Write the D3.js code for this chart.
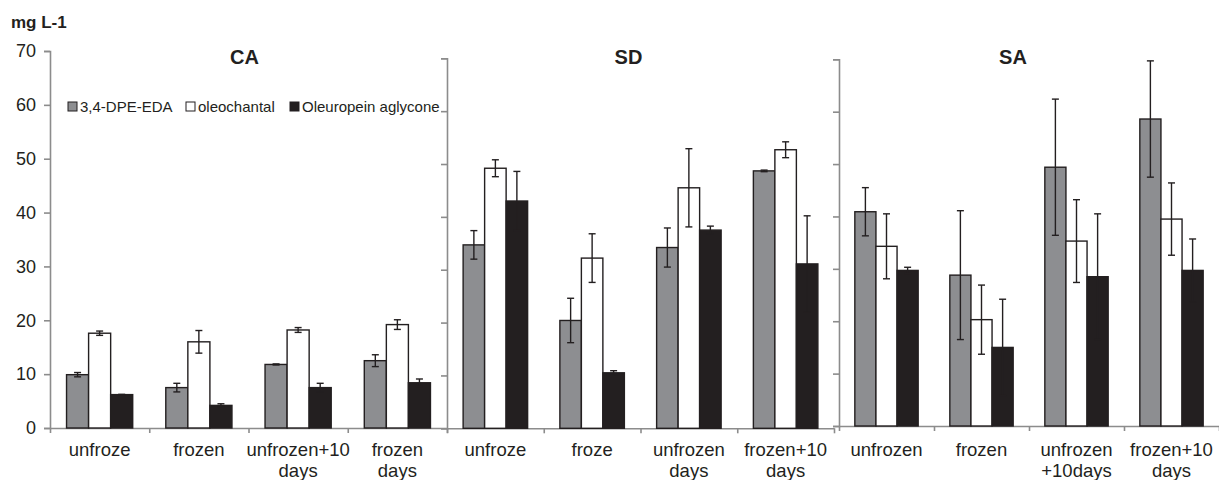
<!DOCTYPE html>
<html>
<head>
<meta charset="utf-8">
<script src="https://d3js.org/d3.v7.min.js"></script>
<style>
  body { margin: 0; background: #fff; }
  svg text { font-family: "Liberation Sans", Arial, sans-serif; fill: #231f20; }
</style>
</head>
<body>
<div class="chart"></div>
<script>
// values (mg L-1)
const seriesNames = ["3,4-DPE-EDA", "oleochantal", "Oleuropein aglycone"];
const panelNames = ["CA", "SD", "SA"];

const caLabels = [["unfroze"], ["frozen"], ["unfrozen+10", "days"], ["frozen", "days"]];
const sdLabels = [["unfroze"], ["froze"], ["unfrozen", "days"], ["frozen+10", "days"]];
const saLabels = [["unfrozen"], ["frozen"], ["unfrozen", "+10days"], ["frozen+10", "days"]];

const caDpe = [9.9, 7.5, 11.8, 12.5];
const caDpeErr = [0.4, 0.8, 0.1, 1.1];
const caOleo = [17.6, 16.0, 18.2, 19.2];
const caOleoErr = [0.4, 2.1, 0.45, 0.9];
const caAgly = [6.2, 4.2, 7.5, 8.4];
const caAglyErr = [0.05, 0.3, 0.8, 0.7];

const sdDpe = [34.7, 20.4, 34.2, 48.7];
const sdDpeErr = [2.7, 4.2, 3.7, 0.15];
const sdOleo = [49.2, 32.2, 45.5, 52.7];
const sdOleoErr = [1.6, 4.6, 7.4, 1.5];
const sdAgly = [43.0, 10.5, 37.5, 31.1];
const sdAglyErr = [5.6, 0.4, 0.75, 9.1];

const saDpe = [40.9, 28.8, 49.4, 58.6];
const saDpeErr = [4.6, 12.3, 13.0, 11.1];
const saOleo = [34.3, 20.3, 35.3, 39.5];
const saOleoErr = [6.2, 6.6, 7.9, 6.9];
const saAgly = [29.7, 15.0, 28.5, 29.7];
const saAglyErr = [0.6, 9.2, 12.0, 6.0];

const yTicks = [0, 10, 20, 30, 40, 50, 60, 70];

const W = 1219, H = 480;
const axisColor = "#8c8c8c";
const ink = "#231f20";
const fills = ["#8d8e91", "#ffffff", "#231f20"];

// panel frames: x0, x1, y of 0, y of 70
const frames = [
  { x0: 50, x1: 447, yb: 428, yt: 51, showLabels: true },
  { x0: 447, x1: 834, yb: 428.3, yt: 58.3, showLabels: false },
  { x0: 839, x1: 1219, yb: 426, yt: 59.3, showLabels: false }
];

const panels = [
  { labels: caLabels, vals: [caDpe, caOleo, caAgly], errs: [caDpeErr, caOleoErr, caAglyErr] },
  { labels: sdLabels, vals: [sdDpe, sdOleo, sdAgly], errs: [sdDpeErr, sdOleoErr, sdAglyErr] },
  { labels: saLabels, vals: [saDpe, saOleo, saAgly], errs: [saDpeErr, saOleoErr, saAglyErr] }
];

const svg = d3.select(".chart").append("svg")
  .attr("width", W).attr("height", H);

svg.append("text")
  .attr("x", 11).attr("y", 28)
  .style("font-size", "17px").style("font-weight", "bold")
  .text("mg L-1");

panels.forEach((p, pi) => {
  const f = frames[pi];
  const y = d3.scaleLinear().domain([0, 70]).range([f.yb, f.yt]);
  const cats = d3.range(p.labels.length);
  const x0 = d3.scaleBand().domain(cats).range([f.x0, f.x1]).padding(0);
  const x1 = d3.scaleBand().domain(d3.range(3)).range([0, x0.bandwidth()])
    .paddingInner(0).paddingOuter(0.75);
  const g = svg.append("g");

  // y axis
  const yAxis = d3.axisLeft(y).tickValues(yTicks).tickSize(6).tickPadding(8)
    .tickFormat(f.showLabels ? d3.format("d") : () => "");
  const ya = g.append("g").attr("transform", `translate(${f.x0},0)`).call(yAxis);
  ya.selectAll("path, line").attr("stroke", axisColor).attr("stroke-width", 1.6);
  ya.selectAll("text").style("font-size", "18px").style("font-family", "'Liberation Sans', Arial, sans-serif").attr("fill", ink);

  // x axis with ticks at category boundaries
  const xb = d3.scaleLinear().domain([0, cats.length]).range([f.x0, f.x1]);
  const xAxis = d3.axisBottom(xb).tickValues(d3.range(cats.length + 1))
    .tickSize(5).tickSizeOuter(0).tickFormat(() => "");
  const xa = g.append("g").attr("transform", `translate(0,${f.yb})`).call(xAxis);
  xa.selectAll("path, line").attr("stroke", axisColor).attr("stroke-width", 1.6);

  // bars
  p.vals.forEach((vals, si) => {
    g.selectAll(null).data(vals).join("rect")
      .attr("x", (d, i) => x0(i) + x1(si))
      .attr("y", d => y(d))
      .attr("width", x1.bandwidth())
      .attr("height", d => y(0) - y(d))
      .attr("fill", fills[si])
      .attr("stroke", ink)
      .attr("stroke-width", 1.4);
  });

  // error bars
  p.vals.forEach((vals, si) => {
    const errs = p.errs[si];
    vals.forEach((v, i) => {
      const cx = x0(i) + x1(si) + x1.bandwidth() / 2;
      const e = errs[i];
      const eg = g.append("g").attr("stroke", ink).attr("stroke-width", 1.4);
      eg.append("line").attr("x1", cx).attr("x2", cx).attr("y1", y(v + e)).attr("y2", y(v - e));
      eg.append("line").attr("x1", cx - 3.5).attr("x2", cx + 3.5).attr("y1", y(v + e)).attr("y2", y(v + e));
      eg.append("line").attr("x1", cx - 3.5).attr("x2", cx + 3.5).attr("y1", y(v - e)).attr("y2", y(v - e));
    });
  });

  // category labels
  p.labels.forEach((lines, i) => {
    const t = g.append("text")
      .attr("text-anchor", "middle")
      .style("font-size", "18.5px");
    lines.forEach((ln, li) => {
      t.append("tspan")
        .attr("x", x0(i) + x0.bandwidth() / 2)
        .attr("y", 456 + li * 21)
        .text(ln);
    });
  });

  // panel title
  g.append("text")
    .attr("x", (f.x0 + f.x1) / 2 + (pi === 0 ? -4 : (pi === 1 ? -12 : -16)))
    .attr("y", 64)
    .attr("text-anchor", "middle")
    .style("font-size", "20px").style("font-weight", "bold")
    .text(panelNames[pi]);
});

// legend
const legendX = [68, 186, 290];
const lg = svg.append("g");
seriesNames.forEach((name, i) => {
  lg.append("rect")
    .attr("x", legendX[i]).attr("y", 102)
    .attr("width", 9).attr("height", 9)
    .attr("fill", fills[i]).attr("stroke", ink).attr("stroke-width", 1);
  lg.append("text")
    .attr("x", legendX[i] + 12).attr("y", 111.5)
    .style("font-size", "15px")
    .text(name);
});
</script>
</body>
</html>
